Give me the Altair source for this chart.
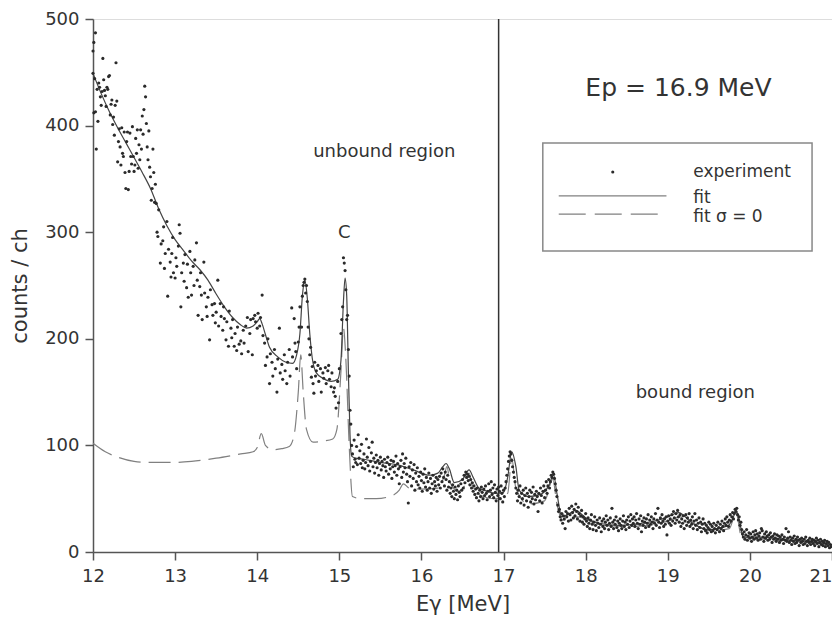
import altair as alt
import pandas as pd

# ---------------- experimental spectrum (E [MeV], counts/ch) ----------------
exp_a = [(12.00,449),(12.00,470),(12.01,478),(12.01,412),(12.02,444),(12.03,487),(12.03,413),(12.04,378),
(12.05,434),(12.06,404),(12.07,440),(12.08,436),(12.09,427),(12.10,419),(12.11,432),(12.12,463),(12.13,443),
(12.14,433),(12.15,428),(12.16,418),(12.17,436),(12.18,434),(12.19,446),(12.20,447),(12.21,410),(12.22,420),
(12.23,424),(12.24,401),(12.25,408),(12.26,391),(12.27,419),(12.28,459),(12.29,423),(12.30,366),(12.31,385),
(12.32,397),(12.33,380),(12.34,363),(12.35,398),(12.36,374),(12.37,371),(12.38,394),(12.39,356),(12.40,341),
(12.41,385),(12.42,394),(12.43,340),(12.44,357),(12.45,393),(12.46,371),(12.47,364),(12.48,399),(12.49,371),
(12.50,357),(12.51,363),(12.52,388),(12.53,374),(12.54,396),(12.55,360),(12.56,382),(12.57,368),(12.58,396),
(12.59,378),(12.60,409),(12.61,392),(12.62,415),(12.63,437),(12.64,427),(12.65,402),(12.66,380),(12.67,368),
(12.68,395),(12.69,361),(12.70,352),(12.71,330),(12.72,341),(12.73,378),(12.74,356),(12.75,328),(12.76,345),
(12.77,327)]

exp_b = [(12.78,300),(12.79,296),(12.80,321),(12.82,271),(12.83,289),(12.85,292),(12.86,305),(12.87,266),
(12.88,280),(12.90,310),(12.91,240),(12.92,284),(12.94,272),(12.95,258),(12.96,280),(12.97,295),(12.98,262),
(13.00,257),(13.01,276),(13.02,268),(13.04,287),(13.05,307),(13.06,299),(13.07,230),(13.08,262),(13.10,271),
(13.11,254),(13.12,279),(13.14,248),(13.15,270),(13.16,239),(13.18,282),(13.19,262),(13.20,241),(13.22,268),
(13.23,250),(13.24,274),(13.26,290),(13.27,255),(13.28,222),(13.30,249),(13.31,262),(13.32,241),(13.33,218),
(13.35,272),(13.36,243),(13.38,230),(13.39,221),(13.40,239),(13.42,199),(13.43,246),(13.45,232),(13.46,222),
(13.48,233),(13.49,215),(13.50,225),(13.52,255),(13.53,212),(13.55,233),(13.56,221),(13.58,208),(13.59,230),
(13.60,219),(13.62,199),(13.63,216),(13.65,193),(13.66,226),(13.68,210),(13.69,201),(13.70,218),(13.72,193),
(13.73,205),(13.75,189),(13.76,211),(13.78,195),(13.80,198),(13.81,186),(13.83,208),(13.84,196),(13.86,212),
(13.88,220),(13.89,188),(13.91,205),(13.92,218),(13.94,185),(13.95,219),(13.97,222),(13.98,216),(14.00,210),
(14.01,224),(14.03,212),(14.04,220),(14.06,241),(14.07,203),(14.09,196),(14.10,175),(14.12,183),(14.13,200),
(14.15,158),(14.16,186),(14.18,178),(14.19,165),(14.21,190),(14.22,172),(14.24,150),(14.25,181),(14.27,210),
(14.28,168),(14.30,176),(14.31,162),(14.33,185),(14.34,170),(14.36,158),(14.37,178),(14.39,190),(14.40,165),
(14.42,229),(14.43,183),(14.45,219),(14.46,196)]

exp_c = [(14.47,188),(14.48,172),(14.50,197),(14.51,211),(14.52,230),(14.54,211),(14.55,240),(14.56,250),
(14.57,253),(14.58,256),(14.59,243),(14.60,250),(14.61,235),(14.62,211),(14.63,200),(14.64,185),(14.65,192),
(14.66,164),(14.67,174),(14.68,158),(14.69,149),(14.70,178),(14.71,165),(14.72,170),(14.74,175),(14.75,160),
(14.77,172),(14.78,150),(14.80,168),(14.81,163),(14.83,173),(14.84,158),(14.86,170),(14.87,175),(14.88,162),
(14.90,155),(14.91,168),(14.93,150),(14.94,154),(14.95,146),(14.96,135),(14.98,160),(14.99,140),(15.00,172),
(15.02,205),(15.03,218),(15.04,230),(15.05,276),(15.06,271),(15.07,264),(15.08,246),(15.09,218),(15.10,222),
(15.11,190),(15.12,165),(15.13,133),(15.14,120),(15.15,100)]

exp_d = [(15.16,92),(15.17,80),(15.18,105),(15.19,87),(15.20,84),(15.21,99),(15.22,82),(15.23,110),(15.24,88),
(15.25,95),(15.26,83),(15.27,101),(15.28,79),(15.29,86),(15.30,92),(15.31,78),(15.32,84),(15.33,106),(15.34,89),
(15.35,81),(15.36,98),(15.37,76),(15.38,85),(15.39,93),(15.40,103),(15.41,80),(15.42,88),(15.43,74),(15.44,84),
(15.45,91),(15.46,79),(15.47,86),(15.48,72),(15.49,83),(15.50,89),(15.51,77),(15.52,85),(15.53,81),(15.54,70),
(15.55,87),(15.56,80),(15.57,76),(15.58,84),(15.59,89),(15.60,73),(15.61,82),(15.62,78),(15.63,86),(15.64,69),
(15.65,80),(15.66,85),(15.67,75),(15.68,81),(15.69,90),(15.70,72),(15.71,83),(15.72,78),(15.73,64),(15.74,80),
(15.75,86),(15.76,70),(15.77,92),(15.78,75),(15.79,83),(15.80,79),(15.81,88),(15.82,73),(15.83,66),(15.84,46),
(15.85,80),(15.86,71),(15.87,84),(15.88,62),(15.89,77),(15.90,69),(15.91,82),(15.92,58),(15.93,74),(15.94,66),
(15.95,79),(15.96,63),(15.97,71),(15.98,60),(15.99,75),(16.00,67),(16.01,57),(16.02,73),(16.03,65),(16.04,78),
(16.05,61),(16.06,70),(16.07,58),(16.08,66),(16.09,74),(16.10,60),(16.11,69),(16.12,55),(16.13,64),(16.14,72),
(16.15,59),(16.16,66),(16.17,62),(16.18,70),(16.19,57),(16.20,68),(16.21,63),(16.22,71),(16.23,60),(16.24,74),
(16.25,66),(16.26,78),(16.27,70),(16.28,62),(16.29,75),(16.30,68),(16.31,58),(16.32,72),(16.33,61),(16.34,66),
(16.35,55),(16.36,60),(16.37,52),(16.38,63),(16.39,57),(16.40,50),(16.41,61),(16.42,54),(16.43,58),(16.44,49),
(16.45,62),(16.46,56),(16.47,52),(16.48,64),(16.49,58),(16.50,68),(16.51,60),(16.52,72),(16.53,65),(16.54,75),
(16.55,70),(16.56,73),(16.57,67),(16.58,71),(16.59,63),(16.60,68),(16.61,60),(16.62,65),(16.63,57),(16.64,62),
(16.65,54),(16.66,59),(16.67,51),(16.68,60),(16.69,55),(16.70,48),(16.71,58),(16.72,52),(16.73,61),(16.74,56),
(16.75,50),(16.76,59),(16.77,53),(16.78,62),(16.79,55),(16.80,49),(16.81,57),(16.82,64),(16.83,52),(16.84,58),
(16.85,66),(16.86,54),(16.87,60),(16.88,51),(16.89,63),(16.90,56),(16.91,48),(16.92,59),(16.93,53),(16.94,61),
(16.95,57),(16.96,50),(16.97,62),(16.98,55),(16.99,47),(17.00,58)]

exp_e = [(17.01,52),(17.02,60),(17.03,66),(17.04,72),(17.05,78),(17.06,85),(17.07,90),(17.08,94),(17.09,92),
(17.10,86),(17.11,80),(17.12,75),(17.13,70),(17.14,66),(17.15,60),(17.16,55),(17.17,48),(17.18,58),(17.19,52),
(17.20,62),(17.21,46),(17.22,55),(17.23,50),(17.24,58),(17.25,44),(17.26,53),(17.27,60),(17.28,48),(17.29,55),
(17.30,42),(17.31,52),(17.32,58),(17.33,47),(17.34,56),(17.35,50),(17.36,61),(17.37,45),(17.38,54),(17.39,49),
(17.40,57),(17.41,52),(17.42,38),(17.43,55),(17.44,48),(17.45,60),(17.46,53),(17.47,46),(17.48,57),(17.49,62),
(17.50,51),(17.51,58),(17.52,66),(17.53,55),(17.54,62),(17.55,68),(17.56,60),(17.57,66),(17.58,72),(17.59,70),
(17.60,75),(17.61,73),(17.62,69),(17.63,64),(17.64,58),(17.65,52),(17.66,44),(17.67,38),(17.68,40),(17.69,33),
(17.70,30),(17.71,36),(17.72,27),(17.73,34),(17.74,31),(17.75,22),(17.76,38),(17.77,33),(17.78,36),(17.79,29),
(17.80,41),(17.81,35),(17.82,30),(17.83,43),(17.84,37),(17.85,32),(17.86,40),(17.87,34),(17.88,45),(17.89,38),
(17.90,31),(17.91,42),(17.92,36),(17.93,29),(17.94,34),(17.95,39),(17.96,28),(17.97,33),(17.98,26),(17.99,31),
(18.00,36),(18.01,29),(18.02,24),(18.03,32),(18.04,27),(18.05,22),(18.06,30),(18.07,35),(18.08,26),(18.09,21),
(18.10,28),(18.11,33),(18.12,25),(18.13,20),(18.14,30),(18.15,27),(18.16,23),(18.17,32),(18.18,26),(18.19,19),
(18.20,29),(18.21,24),(18.22,31),(18.23,22),(18.24,28),(18.25,34),(18.26,25),(18.27,30),(18.28,21),(18.29,27),
(18.30,32),(18.31,24),(18.32,41),(18.33,28),(18.34,22),(18.35,30),(18.36,26),(18.37,33),(18.38,23),(18.39,29),
(18.40,20),(18.41,27),(18.42,31),(18.43,25),(18.44,22),(18.45,29),(18.46,34),(18.47,24),(18.48,28),(18.49,21),
(18.50,30),(18.51,26),(18.52,33),(18.53,23),(18.54,29),(18.55,35),(18.56,25),(18.57,31),(18.58,27),(18.59,33),
(18.60,24),(18.61,30),(18.62,36),(18.63,27),(18.64,22),(18.65,31),(18.66,26),(18.67,34),(18.68,19),(18.69,29),
(18.70,25),(18.71,32),(18.72,28),(18.73,23),(18.74,31),(18.75,27),(18.76,35),(18.77,24),(18.78,30),(18.79,26),
(18.80,33),(18.81,28),(18.82,22),(18.83,31),(18.84,27),(18.85,36),(18.86,25),(18.87,30),(18.88,41),(18.89,28),
(18.90,23),(18.91,32),(18.92,27),(18.93,35),(18.94,29),(18.95,24),(18.96,31),(18.97,26),(18.98,33),(18.99,16),
(19.00,29),(19.01,34),(19.02,27),(19.03,31),(19.04,25),(19.05,35),(19.06,29),(19.07,38),(19.08,32),(19.09,27),
(19.10,36),(19.11,30),(19.12,39),(19.13,33),(19.14,28),(19.15,35),(19.16,24),(19.17,31),(19.18,27),(19.19,34),
(19.20,22),(19.21,29),(19.22,35),(19.23,25),(19.24,32),(19.25,28),(19.26,36),(19.27,24),(19.28,30),(19.29,26),
(19.30,33),(19.31,22),(19.32,29),(19.33,36),(19.34,25),(19.35,30),(19.36,21),(19.37,27),(19.38,32),(19.39,23),
(19.40,28),(19.41,19),(19.42,26),(19.43,31),(19.44,22),(19.45,27),(19.46,20),(19.47,25),(19.48,18),(19.49,23),
(19.50,28),(19.51,21),(19.52,26),(19.53,19),(19.54,24),(19.55,20),(19.56,27),(19.57,22),(19.58,18),(19.59,25),
(19.60,21),(19.61,28),(19.62,23),(19.63,19),(19.64,26),(19.65,22),(19.66,29),(19.67,24),(19.68,20),(19.69,27),
(19.70,31),(19.71,25),(19.72,33),(19.73,28),(19.74,24),(19.75,30),(19.76,35),(19.77,29),(19.78,33),(19.79,37),
(19.80,31),(19.81,36),(19.82,40),(19.83,38),(19.84,41),(19.85,35),(19.86,30),(19.87,33),(19.88,25),(19.89,28),
(19.90,21),(19.91,17),(19.92,14),(19.93,19),(19.94,12),(19.95,16),(19.96,21),(19.97,11),(19.98,15),(19.99,18),
(20.00,13),(20.01,17),(20.02,10),(20.03,14),(20.04,19),(20.05,12),(20.06,16),(20.07,20),(20.08,13),(20.09,17),
(20.10,11),(20.11,15),(20.12,18),(20.13,12),(20.14,22),(20.15,20),(20.16,14),(20.17,10),(20.18,17),(20.19,13),
(20.20,19),(20.21,15),(20.22,11),(20.23,16),(20.24,12),(20.25,18),(20.26,14),(20.27,9),(20.28,15),(20.29,12),
(20.30,17),(20.31,13),(20.32,10),(20.33,16),(20.34,12),(20.35,15),(20.36,9),(20.37,14),(20.38,11),(20.39,16),
(20.40,12),(20.41,8),(20.42,14),(20.43,11),(20.44,22),(20.45,10),(20.46,13),(20.47,19),(20.48,9),(20.49,14),
(20.50,11),(20.51,7),(20.52,13),(20.53,10),(20.54,15),(20.55,8),(20.56,12),(20.57,9),(20.58,14),(20.59,11),
(20.60,6),(20.61,12),(20.62,9),(20.63,13),(20.64,10),(20.65,7),(20.66,12),(20.67,8),(20.68,14),(20.69,10),
(20.70,6),(20.71,11),(20.72,9),(20.73,13),(20.74,7),(20.75,10),(20.76,12),(20.77,8),(20.78,11),(20.79,6),
(20.80,10),(20.81,13),(20.82,8),(20.83,11),(20.84,5),(20.85,9),(20.86,12),(20.87,7),(20.88,10),(20.89,6),
(20.90,9),(20.91,11),(20.92,5),(20.93,8),(20.94,10),(20.95,6),(20.96,9),(20.97,4),(20.98,7),(20.99,5)]

# ---------------- fit (solid) ----------------
fit_pts = [(12.0,449),(12.1,430),(12.2,413),(12.3,398),(12.4,384),(12.5,370),(12.6,356),(12.7,341),(12.8,322),
(12.9,306),(13.0,293),(13.1,283),(13.2,273),(13.3,265),(13.4,255),(13.5,242),(13.6,230),(13.7,220),(13.8,213),
(13.87,210),(13.95,212),(14.0,216),(14.03,219),(14.06,214),(14.1,204),(14.15,192),(14.25,183),(14.35,178),
(14.43,177),(14.48,185),(14.52,205),(14.55,240),(14.58,255),(14.61,238),(14.64,205),(14.67,182),(14.72,168),
(14.8,163),(14.9,160),(14.98,162),(15.02,180),(15.05,235),(15.07,257),(15.09,240),(15.11,170),(15.13,110),
(15.15,90),(15.2,88),(15.3,87),(15.5,84),(15.7,82),(15.9,77),(16.1,72),(16.2,74),(16.26,80),(16.3,83),(16.34,78),
(16.4,65),(16.5,68),(16.58,77),(16.63,70),(16.7,60),(16.8,57),(16.9,55),(17.0,56),(17.05,70),(17.1,94),
(17.15,80),(17.19,58),(17.3,52),(17.45,54),(17.55,62),(17.61,72),(17.65,55),(17.71,33),(17.8,36),(17.88,39),
(18.0,32),(18.16,27),(18.4,25),(18.6,26),(18.89,30),(19.0,33),(19.13,37),(19.3,27),(19.49,21),(19.6,22),
(19.74,25),(19.8,33),(19.83,39),(19.87,30),(19.92,14),(20.1,14),(20.3,13),(20.5,11),(20.7,10),(20.9,8),(21.0,7)]

# ---------------- fit with sigma = 0 (dashed) ----------------
fit0_pts = [(12.0,102),(12.15,94),(12.3,89),(12.5,85),(12.7,84),(12.97,84),(13.2,85),(13.5,88),(13.8,92),
(13.95,94),(14.0,98),(14.05,111),(14.1,100),(14.19,96),(14.3,97),(14.39,99),(14.45,110),(14.5,150),(14.53,185),
(14.56,150),(14.6,115),(14.68,103),(14.8,104),(14.92,106),(14.97,115),(15.02,170),(15.05,210),(15.08,180),
(15.12,100),(15.16,52),(15.27,50),(15.45,50),(15.61,52),(15.73,58),(15.78,64),(15.85,60),(16.0,59),(16.2,60),
(16.28,72),(16.31,80),(16.35,65),(16.45,57),(16.55,66),(16.58,74),(16.62,62),(16.7,54),(16.9,50),(17.05,55),
(17.1,88),(17.15,60),(17.3,45),(17.5,48),(17.6,68),(17.65,45),(17.72,30),(17.9,33),(18.2,25),(18.6,24),
(19.0,29),(19.15,33),(19.5,20),(19.75,22),(19.83,37),(19.9,14),(20.2,12),(20.6,10),(21.0,6)]

# ---------------- annotations ----------------
threshold_E = [16.94]
region_labels = ["unbound region", "bound region", "C"]
region_E = [15.547, 19.336, 15.06]
region_counts = [375, 149, 299]
title_label = ["Ep = 16.9 MeV"]
legend_labels = ["experiment", "fit", "fit  \u03c3 = 0"]

FONT = "DejaVu Sans"
INK = "#333333"

exp_df = pd.DataFrame(exp_a + exp_b + exp_c + exp_d + exp_e, columns=["E", "counts"])
fit_df = pd.DataFrame(fit_pts, columns=["E", "counts"])
fit0_df = pd.DataFrame(fit0_pts, columns=["E", "counts"])

xs = alt.Scale(domain=[12, 21], nice=False, zero=False)
ys = alt.Scale(domain=[0, 500], nice=False)
x_axis = alt.Axis(values=list(range(12, 22)), grid=False, tickSize=8, tickWidth=1.5, tickColor="#555",
                  domainColor="#555", domainWidth=1.5, labelFont=FONT, labelFontSize=18, labelColor=INK,
                  labelPadding=7, titleFont=FONT, titleFontSize=21, titleFontWeight="normal",
                  titleColor=INK, titlePadding=8, labelFlush=False,
                  labelAlign={"expr": "datum.value == 21 ? 'right' : 'center'"})
y_axis = alt.Axis(values=[0, 100, 200, 300, 400, 500], grid=False, tickSize=8, tickWidth=1.5, tickColor="#555",
                  domainColor="#555", domainWidth=1.5, labelFont=FONT, labelFontSize=18, labelColor=INK,
                  labelPadding=6, titleFont=FONT, titleFontSize=21, titleFontWeight="normal",
                  titleColor=INK, titlePadding=14, labelFlush=False)

X = alt.X("E:Q", scale=xs, axis=x_axis, title="E\u03b3 [MeV]")
Y = alt.Y("counts:Q", scale=ys, axis=y_axis, title="counts / ch")

dashed = alt.Chart(fit0_df).mark_line(color="#808080", strokeWidth=1.2, strokeDash=[22, 8],
                                      interpolate="monotone").encode(x=X, y=Y, order="E:Q")
solid = alt.Chart(fit_df).mark_line(color="#444", strokeWidth=1.2,
                                    interpolate="monotone").encode(x=X, y=Y, order="E:Q")
dots = alt.Chart(exp_df).mark_circle(size=10, color="#2a2a2a", opacity=1).encode(x=X, y=Y)

vline_df = pd.DataFrame({"E": threshold_E, "counts": [0], "c2": [500]})
vline = alt.Chart(vline_df).mark_rule(color="#333", strokeWidth=1.5).encode(x=X, y=Y, y2=alt.Y2("c2:Q"))

reg_df = pd.DataFrame({"E": region_E, "counts": region_counts, "label": region_labels})
reg_text = alt.Chart(reg_df).mark_text(font=FONT, fontSize=18, color=INK, align="center",
                                       baseline="middle").encode(x=X, y=Y, text="label:N")

ep_df = pd.DataFrame({"E": [19.13], "counts": [435], "label": title_label})
ep_text = alt.Chart(ep_df).mark_text(font=FONT, fontSize=25, color=INK, align="center",
                                     baseline="middle").encode(x=X, y=Y, text="label:N")

# legend box
box_df = pd.DataFrame({"E": [17.478], "E2": [20.757], "counts": [282.4], "c2": [383.7]})
box = alt.Chart(box_df).mark_rect(fill="white", stroke="#888", strokeWidth=1.5).encode(
    x=X, x2=alt.X2("E2:Q"), y=Y, y2=alt.Y2("c2:Q"))
leg_dot = alt.Chart(pd.DataFrame({"E": [18.33], "counts": [356.5]})).mark_circle(
    size=10, color="#2a2a2a", opacity=1).encode(x=X, y=Y)
leg_solid = alt.Chart(pd.DataFrame({"E": [17.672], "E2": [18.984], "counts": [334]})).mark_rule(
    color="#808080", strokeWidth=1.3).encode(x=X, x2=alt.X2("E2:Q"), y=Y)
leg_dash = alt.Chart(pd.DataFrame({"E": [17.672], "E2": [18.887], "counts": [317]})).mark_rule(
    color="#808080", strokeWidth=1.3, strokeDash=[27, 9]).encode(x=X, x2=alt.X2("E2:Q"), y=Y)
leg_text = alt.Chart(pd.DataFrame({"E": [19.31] * 3, "counts": [356.5, 332, 314],
                                   "label": legend_labels})).mark_text(
    font=FONT, fontSize=17, color=INK, align="left", baseline="middle").encode(x=X, y=Y, text="label:N")

chart = alt.layer(dashed, solid, vline, box, leg_solid, leg_dash, leg_dot, leg_text,
                  reg_text, ep_text, dots).properties(
    width=739, height=533,
    autosize=alt.AutoSizeParams(type="none"),
    padding={"left": 85, "top": 11, "right": 0, "bottom": 64},
).configure_view(stroke="#555", strokeWidth=1.5).configure(background="white")

chart.save("out.html", embed_options={"renderer": "svg", "actions": False})
